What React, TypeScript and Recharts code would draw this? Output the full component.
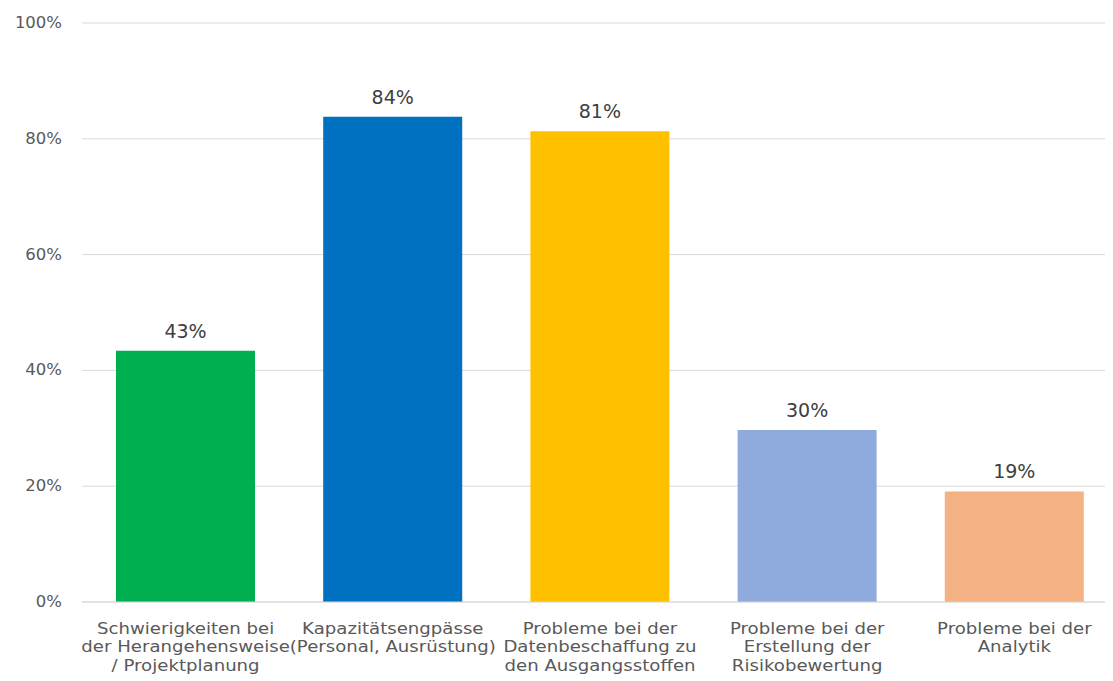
import React from "react";
import { BarChart, Bar, XAxis, YAxis, CartesianGrid, Cell, LabelList } from "recharts";

const categories = [
  "Schwierigkeiten bei\nder Herangehensweise\n/ Projektplanung",
  "Kapazitätsengpässe\n(Personal, Ausrüstung)",
  "Probleme bei der\nDatenbeschaffung zu\nden Ausgangsstoffen",
  "Probleme bei der\nErstellung der\nRisikobewertung",
  "Probleme bei der\nAnalytik",
];
const values = [43.4, 83.8, 81.3, 29.7, 19.1];
const colors = ["#00b050", "#0070c0", "#ffc000", "#8faadc", "#f4b183"];
const yTicks = [0, 20, 40, 60, 80, 100];

const data = categories.map((c, i) => ({ name: c, value: values[i] }));

const FONT = "'DejaVu Sans', sans-serif";

const XTick = (props: any) => {
  const { x, y, payload } = props;
  const lines = String(payload.value).split("\n");
  return (
    <g transform={`translate(${x},${y}) scale(1.17,1)`}>
      {lines.map((l: string, i: number) => (
        <text
          key={i}
          x={0}
          y={i * 18.5}
          dy={24}
          textAnchor="middle"
          fill="#595959"
          fontSize={15.5}
          fontFamily={FONT}
        >
          {l}
        </text>
      ))}
    </g>
  );
};

const YTick = (props: any) => {
  const { x, y, payload } = props;
  return (
    <g transform={`translate(${x},${y}) scale(1.1,1)`}>
      <text x={0} y={0} dy={5} textAnchor="end" fill="#595959" fontSize={15} fontFamily={FONT}>
        {`${payload.value}%`}
      </text>
    </g>
  );
};

export default function App() {
  return (
    <div style={{ width: 1105, height: 673, overflow: "hidden" }}>
      <BarChart
        width={1110}
        height={673}
        data={data}
        margin={{ top: 15, right: 0, left: 14, bottom: 0 }}
      >
        <CartesianGrid vertical={false} stroke="#d9d9d9" />
        <XAxis
          dataKey="name"
          tick={<XTick />}
          tickLine={false}
          axisLine={{ stroke: "#d9d9d9" }}
          height={79}
          interval={0}
        />
        <YAxis
          width={60}
          domain={[0, 100]}
          ticks={yTicks}
          tick={<YTick />}
          tickLine={false}
          axisLine={false}
          tickMargin={14}
        />
        <Bar dataKey="value" barSize={139} isAnimationActive={false}>
          {data.map((d, i) => (
            <Cell key={i} fill={colors[i]} />
          ))}
          <LabelList
            dataKey="value"
            position="top"
            offset={13}
            formatter={(v: number) => `${Math.round(v)}%`}
            style={{ fill: "#404040", fontSize: 19, fontFamily: FONT }}
          />
        </Bar>
      </BarChart>
    </div>
  );
}
